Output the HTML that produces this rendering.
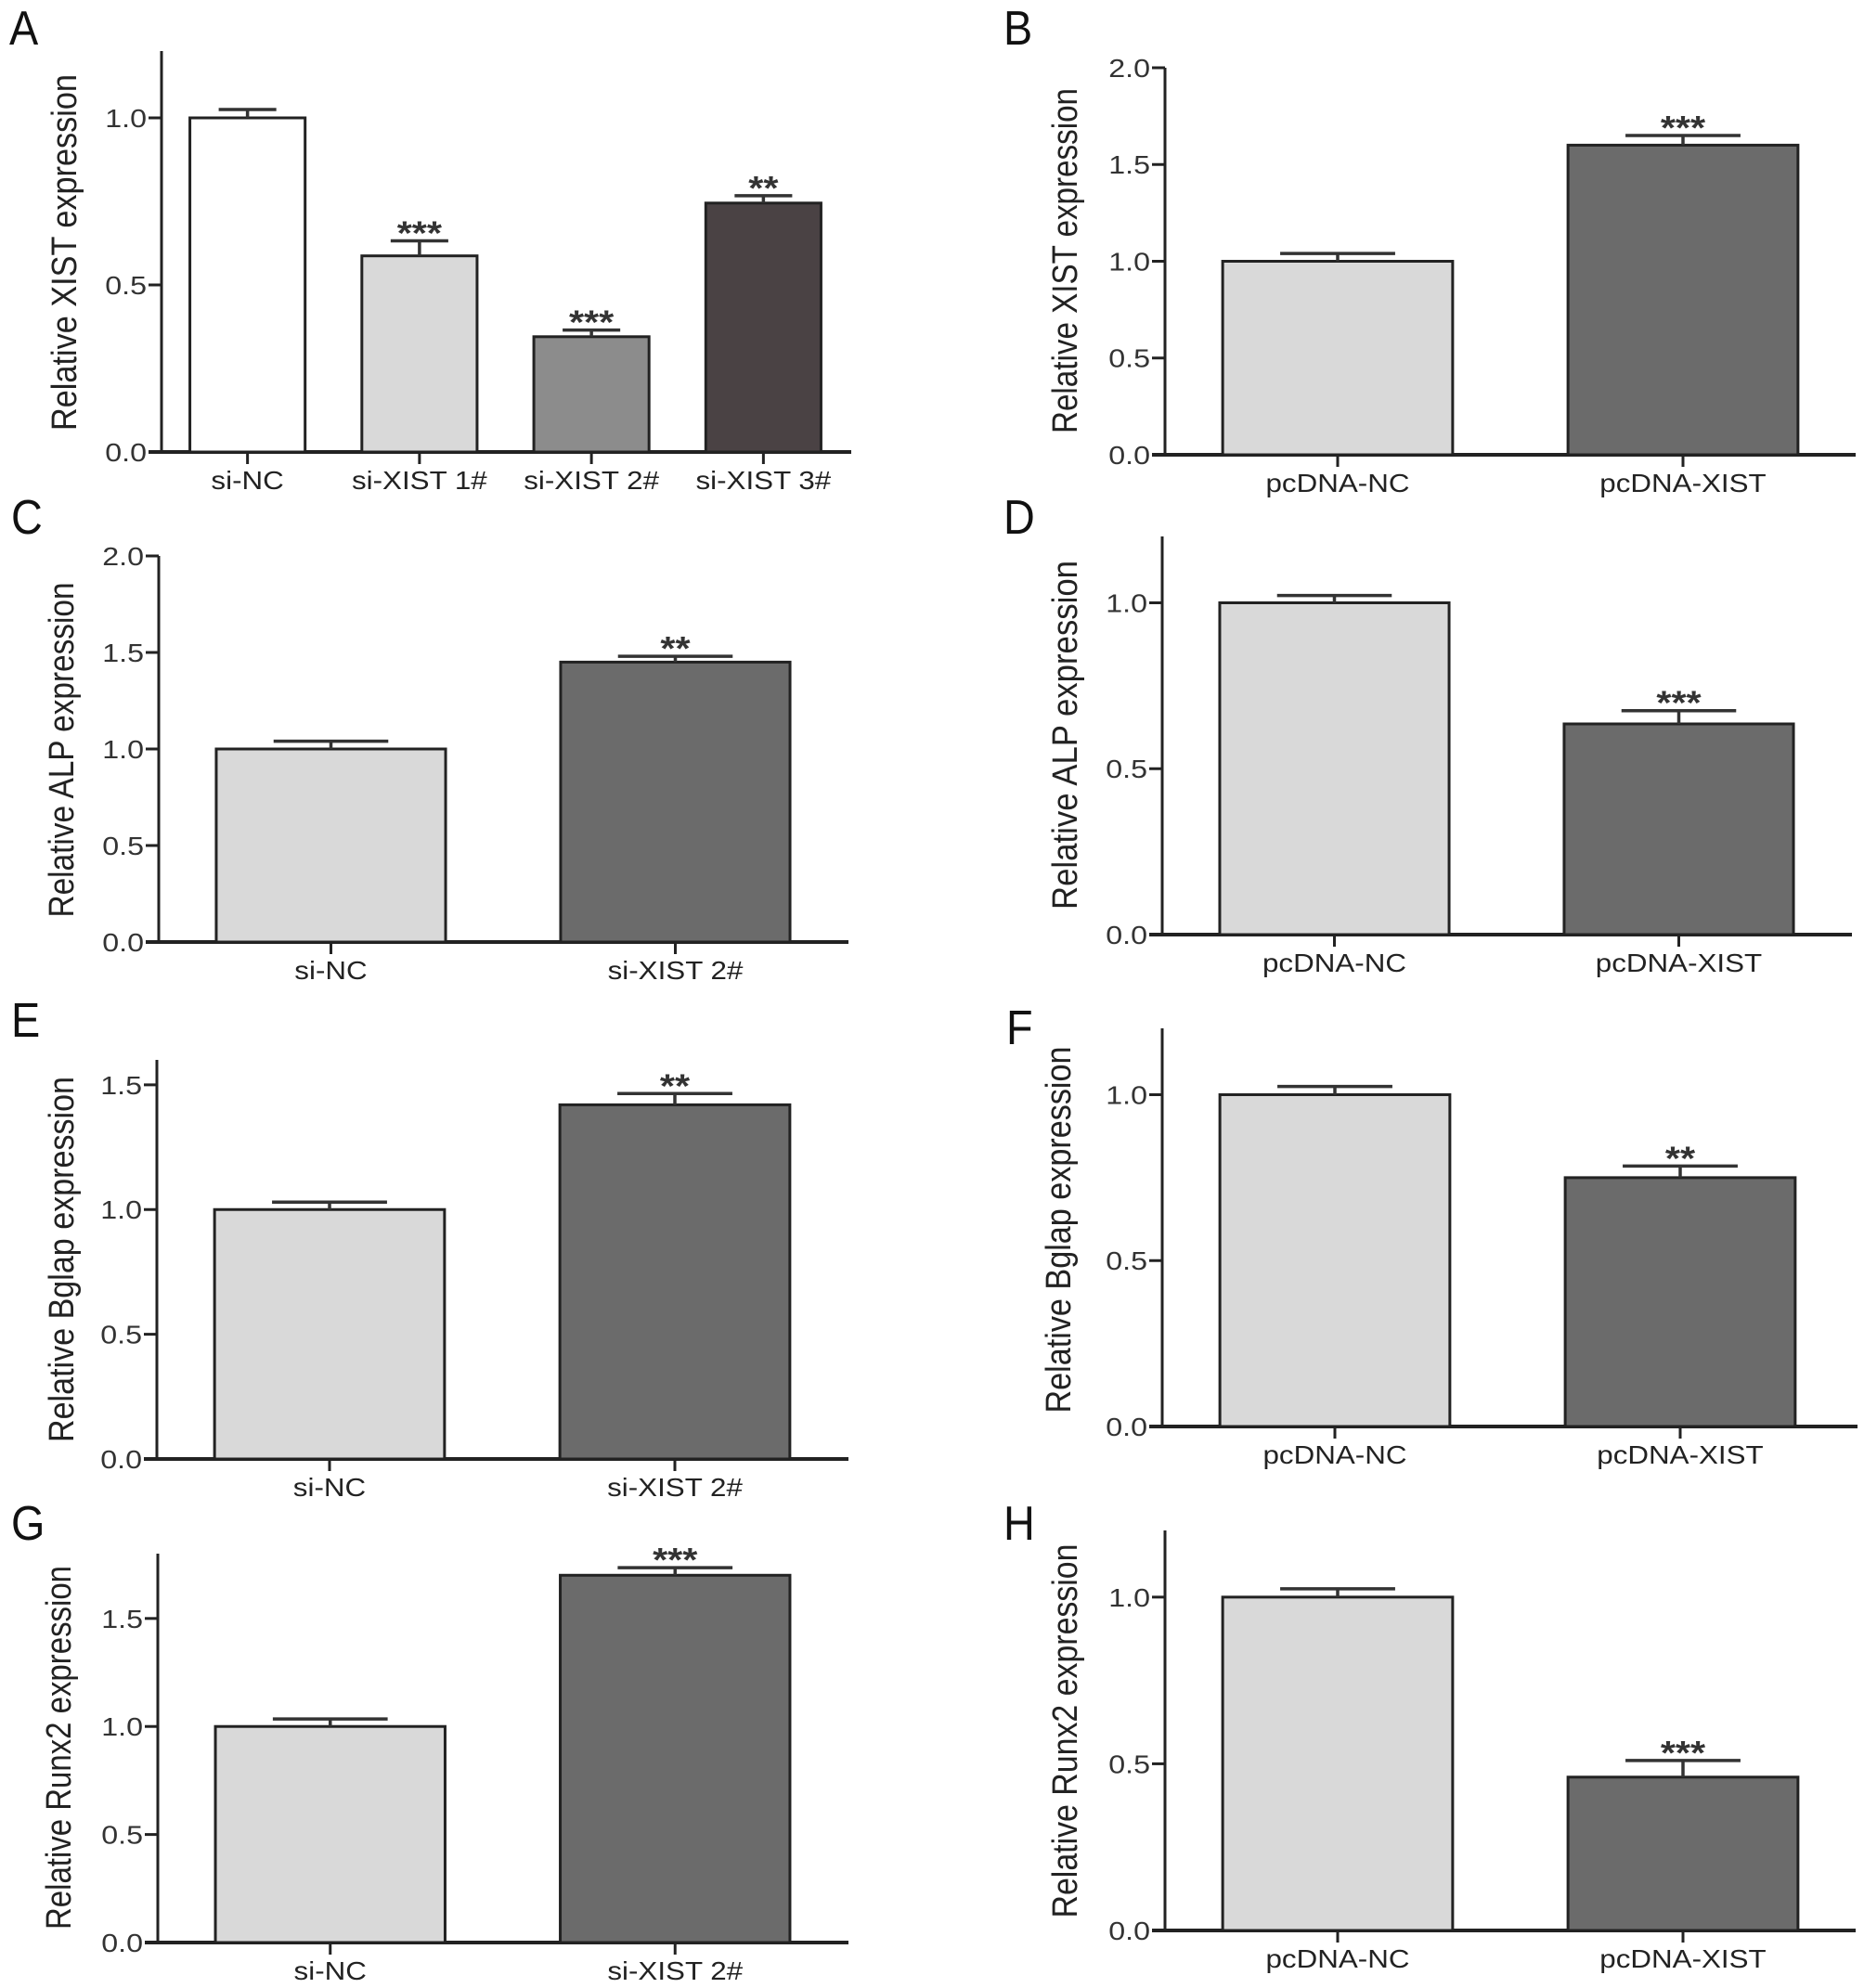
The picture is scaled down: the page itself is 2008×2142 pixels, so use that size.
<!DOCTYPE html>
<html><head><meta charset="utf-8">
<style>
html,body{margin:0;padding:0;background:#fff;}
svg{display:block;font-family:"Liberation Sans",Arial,sans-serif;}
</style></head>
<body>
<svg id="fig" width="2008" height="2142" viewBox="0 0 2008 2142" xmlns="http://www.w3.org/2000/svg"></svg>
<script>
// ---- data ----
const catsA = ["si-NC","si-XIST 1#","si-XIST 2#","si-XIST 3#"];
const valsA = [1.0, 0.587, 0.345, 0.745];
const errsA = [0.025, 0.045, 0.02, 0.022];
const starsA = ["","***","***","**"];
const ticksA = ["0.0","0.5","1.0"];

const catsB = ["pcDNA-NC","pcDNA-XIST"];
const valsB = [1.0, 1.6];
const errsB = [0.04, 0.05];
const starsB = ["","***"];
const ticksB = ["0.0","0.5","1.0","1.5","2.0"];

const catsC = ["si-NC","si-XIST 2#"];
const valsC = [1.0, 1.45];
const errsC = [0.04, 0.03];
const starsC = ["","**"];
const ticksC = ["0.0","0.5","1.0","1.5","2.0"];

const catsD = ["pcDNA-NC","pcDNA-XIST"];
const valsD = [1.0, 0.635];
const errsD = [0.022, 0.04];
const starsD = ["","***"];
const ticksD = ["0.0","0.5","1.0"];

const catsE = ["si-NC","si-XIST 2#"];
const valsE = [1.0, 1.42];
const errsE = [0.03, 0.045];
const starsE = ["","**"];
const ticksE = ["0.0","0.5","1.0","1.5"];

const catsF = ["pcDNA-NC","pcDNA-XIST"];
const valsF = [1.0, 0.75];
const errsF = [0.025, 0.035];
const starsF = ["","**"];
const ticksF = ["0.0","0.5","1.0"];

const catsG = ["si-NC","si-XIST 2#"];
const valsG = [1.0, 1.70];
const errsG = [0.035, 0.035];
const starsG = ["","***"];
const ticksG = ["0.0","0.5","1.0","1.5"];

const catsH = ["pcDNA-NC","pcDNA-XIST"];
const valsH = [1.0, 0.46];
const errsH = [0.025, 0.05];
const starsH = ["","***"];
const ticksH = ["0.0","0.5","1.0"];

const NS = "http://www.w3.org/2000/svg";
const svg = document.getElementById("fig");
function mk(tag, attrs, parent, text){
  const e = document.createElementNS(NS, tag);
  for (const k in attrs) e.setAttribute(k, attrs[k]);
  if (text !== undefined) e.textContent = text;
  (parent || svg).appendChild(e);
  return e;
}

function panel(cfg){
  const g = mk("g", {});
  
  
  const y = v => cfg.y0 - (v / cfg.ymax) * (cfg.y0 - cfg.top);
  const n = cfg.cats.length;
  const slot = (cfg.barsRight - cfg.barsLeft) / n;
  const xc = i => cfg.barsLeft + slot * (i + 0.5);
  const lt = mk("text", {x: cfg.lx, y: cfg.ly, "font-size": 52, fill: "#111", transform: `translate(${cfg.lx},${cfg.ly}) scale(0.9,1) translate(${-cfg.lx},${-cfg.ly})`}, g, cfg.letter);
  
  
  const ya = mk("line", {x1: cfg.ax, x2: cfg.ax, y1: cfg.top, y2: cfg.y0, stroke: "#222", "stroke-width": 3}, g);
  
  
  const xa = mk("line", {x1: cfg.ax - 14, x2: cfg.xend, y1: cfg.y0, y2: cfg.y0, stroke: "#222", "stroke-width": 4}, g);
  
  
  cfg.ticks.forEach(t => {
    const v = parseFloat(t);
    const ty = y(v);
    const tl = mk("line", {x1: cfg.ax - 14, x2: cfg.ax, y1: ty, y2: ty, stroke: "#222", "stroke-width": 3}, g);
    
    
    const tx = cfg.ax - 16;
    const tt = mk("text", {x: tx, y: ty + 10, "font-size": 28, fill: "#333", "text-anchor": "end", transform: `translate(${tx},0) scale(1.15,1) translate(${-tx},0)`}, g, t);
    
    
  });
  const tt = mk("text", {x: 0, y: 0, "font-size": 38, fill: "#222", "text-anchor": "middle", textLength: cfg.tlen, lengthAdjust: "spacingAndGlyphs", transform: `translate(${cfg.tx},${cfg.tcy}) rotate(-90)`}, g, cfg.title);
  
  
  const bw = slot * cfg.bwFrac;
  cfg.cats.forEach((c, i) => {
    const cx = xc(i);
    const top = y(cfg.vals[i]);
    const b = mk("rect", {x: cx - bw/2, y: top, width: bw, height: cfg.y0 - top, fill: cfg.colors[i], stroke: "#222", "stroke-width": 3}, g);
    
    
    const ey = y(cfg.vals[i] + cfg.errs[i]);
    const el = mk("path", {d: `M${cx},${top} V${ey} M${cx - bw/4},${ey} H${cx + bw/4}`, stroke: "#333", "stroke-width": 3.5, fill: "none"}, g);
    
    
    if (cfg.stars[i]) {
      const s = mk("text", {x: cx, y: ey + 4, "font-size": 36, "font-weight": "bold", fill: "#333", "text-anchor": "middle", transform: `translate(${cx},0) scale(1.15,1) translate(${-cx},0)`}, g, cfg.stars[i]);
      
      
    }
    const xt = mk("line", {x1: cx, x2: cx, y1: cfg.y0, y2: cfg.y0 + 13, stroke: "#222", "stroke-width": 3}, g);
    
    
    const cl = mk("text", {x: cx, y: cfg.y0 + 40, "font-size": 28, fill: "#222", "text-anchor": "middle", transform: `translate(${cx},0) scale(1.12,1) translate(${-cx},0)`}, g, c);
    
    
  });
}

const two = ["#d9d9d9", "#6b6b6b"];
panel({letter:"A", lx:10, ly:48, ax:174, top:55, y0:487, ymax:1.2, xend:917, barsLeft:174, barsRight:915, bwFrac:0.67,
  cats:catsA, vals:valsA, errs:errsA, stars:starsA, ticks:ticksA, colors:["#ffffff","#d9d9d9","#8c8c8c","#4a4244"],
  title:"Relative XIST expression", tx:82, tcy:272, tlen:384});
panel({letter:"B", lx:1081, ly:48, ax:1255, top:73, y0:490, ymax:2.0, xend:1999, barsLeft:1255, barsRight:1999, bwFrac:0.666,
  cats:catsB, vals:valsB, errs:errsB, stars:starsB, ticks:ticksB, colors:two,
  title:"Relative XIST expression", tx:1160, tcy:281, tlen:372});
panel({letter:"C", lx:12, ly:575, ax:171, top:599, y0:1015, ymax:2.0, xend:914, barsLeft:171, barsRight:913, bwFrac:0.666,
  cats:catsC, vals:valsC, errs:errsC, stars:starsC, ticks:ticksC, colors:two,
  title:"Relative ALP expression", tx:79, tcy:808, tlen:361});
panel({letter:"D", lx:1081, ly:575, ax:1252, top:578, y0:1007, ymax:1.2, xend:1995, barsLeft:1252, barsRight:1994, bwFrac:0.666,
  cats:catsD, vals:valsD, errs:errsD, stars:starsD, ticks:ticksD, colors:two,
  title:"Relative ALP expression", tx:1160, tcy:792, tlen:376});
panel({letter:"E", lx:12, ly:1117, ax:169, top:1142, y0:1572, ymax:1.6, xend:914, barsLeft:169, barsRight:913, bwFrac:0.666,
  cats:catsE, vals:valsE, errs:errsE, stars:starsE, ticks:ticksE, colors:two,
  title:"Relative Bglap expression", tx:79, tcy:1357, tlen:394});
panel({letter:"F", lx:1084, ly:1125, ax:1252, top:1108, y0:1537, ymax:1.2, xend:2001, barsLeft:1252, barsRight:1996, bwFrac:0.666,
  cats:catsF, vals:valsF, errs:errsF, stars:starsF, ticks:ticksF, colors:two,
  title:"Relative Bglap expression", tx:1153, tcy:1325, tlen:395});
panel({letter:"G", lx:12, ly:1659, ax:170, top:1674, y0:2093, ymax:1.8, xend:914, barsLeft:170, barsRight:913, bwFrac:0.666,
  cats:catsG, vals:valsG, errs:errsG, stars:starsG, ticks:ticksG, colors:two,
  title:"Relative Runx2 expression", tx:76, tcy:1883, tlen:392});
panel({letter:"H", lx:1081, ly:1659, ax:1255, top:1649, y0:2080, ymax:1.2, xend:1999, barsLeft:1255, barsRight:1999, bwFrac:0.666,
  cats:catsH, vals:valsH, errs:errsH, stars:starsH, ticks:ticksH, colors:two,
  title:"Relative Runx2 expression", tx:1160, tcy:1865, tlen:403});
</script>
</body></html>
